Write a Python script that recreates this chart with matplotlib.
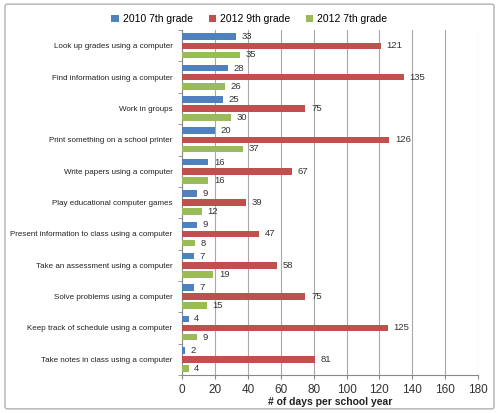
import matplotlib.pyplot as plt
from matplotlib.patches import FancyBboxPatch
import numpy as np

activities = [
    "Look up grades using a computer",
    "Find information using a computer",
    "Work in groups",
    "Print something on a school printer",
    "Write papers using a computer",
    "Play educational computer games",
    "Present information to class using a computer",
    "Take an assessment using a computer",
    "Solve problems using a computer",
    "Keep track of schedule using a computer",
    "Take notes in class using a computer",
]
g7_2010 = [33, 28, 25, 20, 16, 9, 9, 7, 7, 4, 2]
g9_2012 = [121, 135, 75, 126, 67, 39, 47, 58, 75, 125, 81]
g7_2012 = [35, 26, 30, 37, 16, 12, 8, 19, 15, 9, 4]
series = ["2010 7th grade", "2012 9th grade", "2012 7th grade"]
colors = ["#4F81BD", "#C0504D", "#9BBB59"]

plt.rcParams['font.family'] = ['Liberation Sans', 'DejaVu Sans']

fig = plt.figure(figsize=(4.99, 4.13), dpi=100)
ax = fig.add_axes([0.365, 0.092, 0.593, 0.835])

# frame round the whole chart
fig.patches.append(FancyBboxPatch((0.01, 0.01), 0.98, 0.98, boxstyle="round,pad=0,rounding_size=0.005",
                                  transform=fig.transFigure, fill=False, edgecolor="#b0b0b0", lw=1))

n = len(activities)
y = np.arange(n)[::-1].astype(float)
step = 0.29
h = 0.21
for k, (vals, lab, c) in enumerate(zip([g7_2010, g9_2012, g7_2012], series, colors)):
    pos = y + step * (1 - k)
    bars = ax.barh(pos, vals, height=h, color=c, label=lab, zorder=3)
    ax.bar_label(bars, padding=4, fontsize=6.8, color="#333333")

ax.set_xlim(0, 180)
ax.set_ylim(-0.5, n - 0.5)
ax.set_xticks(range(0, 181, 20))
ax.set_yticks(y)
ax.set_yticklabels(activities, fontsize=5.8, color="#222222")
ax.tick_params(axis='y', length=0, pad=7)
ax.set_yticks(np.arange(-0.5, n, 1.0), minor=True)
ax.tick_params(axis='y', which='minor', length=3, color="#888888")
ax.tick_params(axis='x', length=3, labelsize=8.5, color="#888888", labelcolor="#333333")
ax.grid(axis='x', color="#a8a8a8", lw=0.8, zorder=0)
for s in ['top', 'right']:
    ax.spines[s].set_visible(False)
ax.spines['left'].set_color("#888888")
ax.spines['bottom'].set_color("#888888")
ax.set_xlabel("# of days per school year", fontsize=7.5, fontweight='bold', labelpad=1, color="#222222")

leg = ax.legend(loc='lower center', ncol=3, frameon=False, fontsize=7.5,
                handlelength=0.7, handleheight=0.7, handletextpad=0.4, columnspacing=1.5, borderaxespad=0.2)
leg.set_bbox_to_anchor((0.5, 0.926), transform=fig.transFigure)

fig.savefig("out.png", dpi=100)
